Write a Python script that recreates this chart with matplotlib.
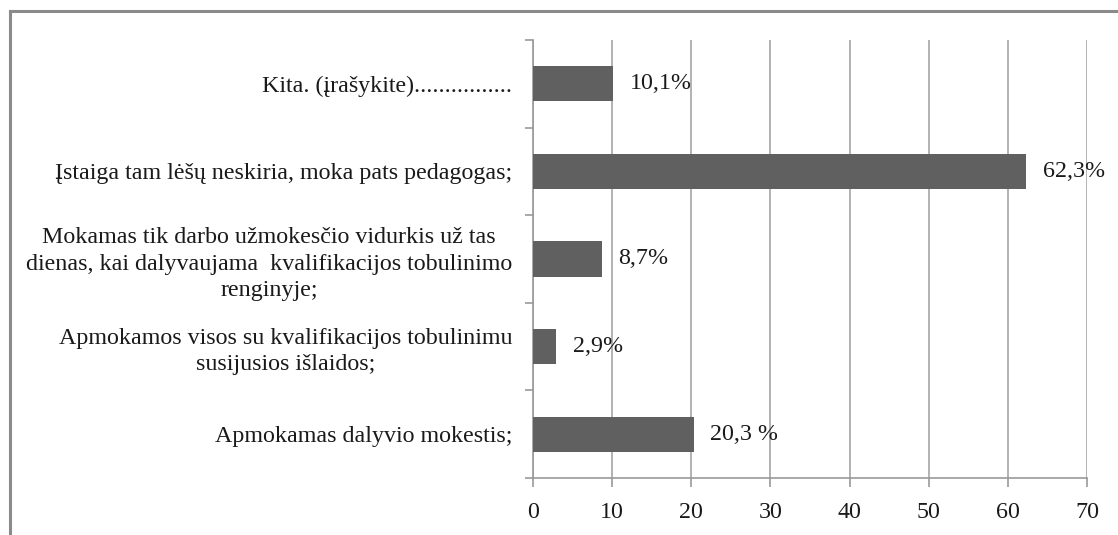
import matplotlib
matplotlib.use("Agg")
import matplotlib.pyplot as plt
from matplotlib.lines import Line2D

categories = [
    "Apmokamas dalyvio mokestis;",
    "Apmokamos visos su kvalifikacijos tobulinimu\nsusijusios išlaidos;",
    "Mokamas tik darbo užmokesčio vidurkis už tas\ndienas, kai dalyvaujama  kvalifikacijos tobulinimo\nrenginyje;",
    "Įstaiga tam lėšų neskiria, moka pats pedagogas;",
    "Kita. (įrašykite)................",
]
values = [20.3, 2.9, 8.7, 62.3, 10.1]
value_labels = ["20,3 %", "2,9%", "8,7%", "62,3%", "10,1%"]
x_ticks = [0, 10, 20, 30, 40, 50, 60, 70]

plt.rcParams['font.family'] = ['Liberation Serif', 'DejaVu Serif']
FS = 17.3

W, H = 1118, 535
fig = plt.figure(figsize=(W / 100, H / 100), dpi=100)
ax = fig.add_axes([533 / W, 1 - 478 / H, (1087 - 533) / W, (478 - 40) / H])

ypos = list(range(len(categories)))
ax.barh(ypos, values, height=0.4, color="#606060", zorder=3)
for y, v, lab in zip(ypos, values, value_labels):
    ax.annotate(lab, (v, y), xytext=(12, 0), textcoords="offset points",
                va="center", ha="left", fontsize=FS, color="#1a1a1a", zorder=4)

ax.set_xlim(0, 70)
ax.set_ylim(-0.5, len(categories) - 0.5)
ax.set_xticks(x_ticks)
ax.set_xticklabels([str(t) for t in x_ticks], fontsize=FS, color="#1a1a1a")
ax.set_yticks(ypos)
ax.set_yticklabels(categories, fontsize=FS, color="#1a1a1a")
for t in ax.get_yticklabels():
    t.set_multialignment("center")
    t.set_linespacing(1.33)
ax.set_yticks([i - 0.5 for i in range(len(categories) + 1)], minor=True)

ax.tick_params(axis="y", which="major", length=0, pad=15)
ax.tick_params(axis="y", which="minor", length=5.5, width=1.2, color="#999999", direction="out")
ax.tick_params(axis="x", which="major", length=6.5, width=1.2, color="#999999", direction="out", pad=11)

ax.grid(axis="x", color="#a6a6a6", linewidth=1.2, zorder=0)
for s in ["top", "right"]:
    ax.spines[s].set_visible(False)
for s in ["left", "bottom"]:
    ax.spines[s].set_color("#999999")
    ax.spines[s].set_linewidth(1.2)

# outer chart frame (extends past right and bottom edges)
fx = 10 / W
fy = 1 - 10.5 / H
fig.add_artist(Line2D([fx, fx], [-0.1, fy], transform=fig.transFigure, color="#8a8a8a", linewidth=2.2))
fig.add_artist(Line2D([fx, 1.1], [fy, fy], transform=fig.transFigure, color="#8a8a8a", linewidth=2.2))

fig.savefig("out.png", dpi=100)
